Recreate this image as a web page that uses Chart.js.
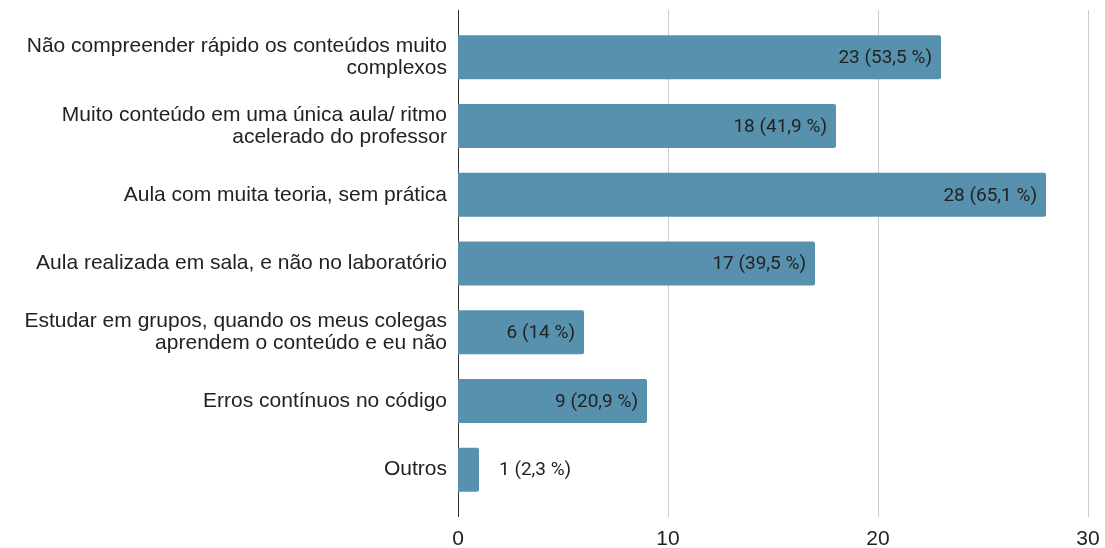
<!DOCTYPE html>
<html>
<head>
<meta charset="utf-8">
<script src="https://cdn.jsdelivr.net/npm/chart.js@4/dist/chart.umd.min.js"></script>
<style>
  html, body { margin: 0; padding: 0; background: #fff; }
  #wrap { width: 1105px; height: 548px; position: relative; }
</style>
</head>
<body>
<div id="wrap"><canvas id="chart" width="1105" height="548"></canvas></div>
<script>
// ====== Data ======
const categories = [
  ["Não compreender rápido os conteúdos muito", "complexos"],
  ["Muito conteúdo em uma única aula/ ritmo", "acelerado do professor"],
  "Aula com muita teoria, sem prática",
  "Aula realizada em sala, e não no laboratório",
  ["Estudar em grupos, quando os meus colegas", "aprendem o conteúdo e eu não"],
  "Erros contínuos no código",
  "Outros"
];
const counts = [23, 18, 28, 17, 6, 9, 1];
const percents = ["53,5", "41,9", "65,1", "39,5", "14", "20,9", "2,3"];
const xTicks = [0, 10, 20, 30];

// gridlines + axis line, a bit taller than the bar band
const gridPlugin = {
  id: "grid",
  beforeDatasetsDraw(chart) {
    const ctx = chart.ctx, x = chart.scales.x, area = chart.chartArea;
    const top = area.top - 13, bottom = area.bottom + 13;
    ctx.save();
    ctx.lineWidth = 1;
    ctx.strokeStyle = "#cccccc";
    xTicks.forEach(t => {
      if (t === 0) return;
      const px = Math.round(x.getPixelForValue(t)) + 0.5;
      ctx.beginPath(); ctx.moveTo(px, top); ctx.lineTo(px, bottom); ctx.stroke();
    });
    ctx.strokeStyle = "#333333";
    const px0 = Math.round(x.getPixelForValue(0)) + 0.5;
    ctx.beginPath(); ctx.moveTo(px0, top); ctx.lineTo(px0, bottom); ctx.stroke();
    ctx.restore();
  }
};

// value labels inside / after the bars
const labelPlugin = {
  id: "labels",
  afterDatasetsDraw(chart) {
    const ctx = chart.ctx;
    const meta = chart.getDatasetMeta(0);
    ctx.save();
    ctx.font = "19px Roboto";
    ctx.fillStyle = "#222222";
    ctx.textBaseline = "middle";
    meta.data.forEach((bar, i) => {
      const txt = counts[i] + " (" + percents[i] + " %)";
      const w = ctx.measureText(txt).width;
      if (w + 18 < bar.x - bar.base) {
        ctx.textAlign = "right";
        ctx.fillText(txt, bar.x - 9, bar.y + 1);
      } else {
        ctx.textAlign = "left";
        ctx.fillText(txt, bar.x + 20, bar.y + 1);
      }
    });
    ctx.restore();
  }
};

new Chart(document.getElementById("chart"), {
  type: "bar",
  data: {
    labels: categories,
    datasets: [{
      data: counts,
      backgroundColor: "#5891ae",
      borderRadius: { topRight: 2, bottomRight: 2 },
      borderSkipped: "start",
      categoryPercentage: 1,
      barPercentage: 0.64
    }]
  },
  options: {
    indexAxis: "y",
    responsive: false,
    animation: false,
    layout: { padding: { top: 23, right: 0, left: 0, bottom: 0 } },
    plugins: { legend: { display: false }, tooltip: { enabled: false } },
    scales: {
      x: {
        min: 0,
        max: 30,
        afterBuildTicks: s => { s.ticks = xTicks.map(v => ({ value: v })); },
        afterFit: s => { s.height = 44; s.paddingLeft = 0; s.paddingRight = 17; },
        grid: { display: false },
        border: { display: false },
        ticks: { padding: 15, color: "#222222", font: { family: "Liberation Sans", size: 21 } }
      },
      y: {
        afterFit: s => { s.width = 458; },
        grid: { display: false },
        border: { display: false },
        ticks: {
          padding: 3,
          color: "#222222",
          font: { family: "Liberation Sans", size: 21, lineHeight: 1.05 }
        }
      }
    }
  },
  plugins: [gridPlugin, labelPlugin]
});
</script>
</body>
</html>
